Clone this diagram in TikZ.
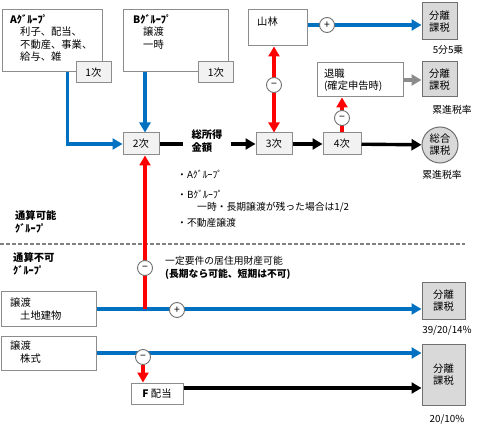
\documentclass[tikz,border=0pt]{standalone}
\usepackage{fontspec}
\setmainfont{Noto Sans CJK JP}
\usetikzlibrary{arrows.meta}
\definecolor{cblue}{HTML}{0070C0}
\definecolor{cred}{HTML}{FF0000}
\definecolor{bordergray}{HTML}{8C8C8C}
\definecolor{lightfill}{HTML}{F2F2F2}
\definecolor{sepfill}{HTML}{D9D9D9}
\definecolor{arrgray}{HTML}{8C8C8C}
\begin{document}
\begin{tikzpicture}[x=1pt,y=-1pt,
  font=\fontsize{10.3}{12.6}\selectfont,
  box/.style={draw=bordergray, line width=1pt, fill=white, inner sep=0pt},
  stepbox/.style={draw=bordergray, line width=1pt, fill=lightfill, inner sep=0pt},
  sepbox/.style={draw=bordergray!80!black, line width=1pt, fill=sepfill, inner sep=0pt, align=center, font=\fontsize{10.3}{12.6}\selectfont},
  txt/.style={inner sep=0pt, align=left},
  tip/.style={-{Triangle[length=10pt,width=11pt]}},
  bluearr/.style={draw=cblue, line width=3.4pt, tip, color=cblue},
  redarr/.style={draw=cred, line width=3.4pt, tip, color=cred},
  redarrtwo/.style={draw=cred, line width=3.4pt, {Triangle[length=10pt,width=11pt]}-{Triangle[length=10pt,width=11pt]}, color=cred},
  blkline/.style={draw=black, line width=3.4pt},
  blkarr/.style={draw=black, line width=3.4pt, tip},
  grayarr/.style={draw=arrgray, line width=3.4pt, tip, color=arrgray},
  sign/.style={circle, draw=bordergray!80!black, line width=0.9pt, fill=white, minimum size=15pt, inner sep=0pt, font=\fontsize{10.5}{10.5}\selectfont},
  lbl/.style={inner sep=0pt, font=\fontsize{9.8}{11}\selectfont},
  dashline/.style={draw=gray, line width=1.1pt, dash pattern=on 3.5pt off 2.5pt}
]
\useasboundingbox (0,0) rectangle (482,433);

% A group
\node[box, minimum width=100, minimum height=62] (Abox) at (52,41) {};
\node[txt, anchor=north west] (Atext) at (10,14) {\textbf{Aｸﾞﾙｰﾌﾟ}\\\hspace*{10pt}利子、配当、\\\hspace*{10pt}不動産、事業、\\\hspace*{10pt}給与、雑};
\node[stepbox, minimum width=35, minimum height=21] (A1) at (93.5,72.5) {1次};

% B group
\node[box, minimum width=105, minimum height=62] (Bbox) at (175.5,41) {};
\node[txt, anchor=north west] (Btext) at (133,14) {\textbf{Bｸﾞﾙｰﾌﾟ}\\\hspace*{10pt}譲渡\\\hspace*{10pt}一時};
\node[stepbox, minimum width=35, minimum height=21] (B1) at (216,72.5) {1次};

% main row
\node[stepbox, minimum width=36, minimum height=22] (n2) at (141,144) {2次};
\node[txt, align=left, inner xsep=8pt, font=\bfseries\fontsize{10.3}{12.6}\selectfont] (sot) at (207,141) {総所得\\金額};
\node[stepbox, minimum width=36, minimum height=22] (n3) at (274,144) {3次};
\node[stepbox, minimum width=38, minimum height=22] (n4) at (342,144) {4次};
\node[circle, draw=bordergray!80!black, line width=1pt, fill=sepfill, minimum size=36pt, inner sep=0pt, align=center, font=\fontsize{10.3}{12}\selectfont] (sogo) at (440,145) {総合\\課税};
\node[lbl] (sogolbl) at (442,175) {累進税率};

% 山林
\node[box, minimum width=59, minimum height=36] (yama) at (277.5,28) {};
\node[txt, anchor=west] (yamat) at (257,22) {山林};
\node[sepbox, minimum width=35, minimum height=37] (s1) at (439.5,21.5) {分離\\課税};
\node[lbl] (s1lbl) at (448,50) {5分5乗};

% 退職
\node[box, text width=72pt, align=left, inner xsep=7pt, minimum height=34] (tai) at (360,80) {退職\\(確定申告時)};
\node[sepbox, minimum width=35, minimum height=35] (s2) at (439.5,79.5) {分離\\課税};
\node[lbl] (s2lbl) at (452,110) {累進税率};

% bullets
\node[txt, anchor=west, font=\fontsize{9.8}{11}\selectfont] (b1) at (177,175) {・Aｸﾞﾙｰﾌﾟ};
\node[txt, anchor=west, font=\fontsize{9.8}{11}\selectfont] (b2) at (177,195) {・Bｸﾞﾙｰﾌﾟ};
\node[txt, anchor=west, font=\fontsize{9.8}{11}\selectfont] (b3) at (197,207) {一時・長期譲渡が残った場合は1/2};
\node[txt, anchor=west, font=\fontsize{9.8}{11}\selectfont] (b4) at (177,223) {・不動産譲渡};

% group labels
\node[txt, anchor=north west, font=\bfseries\fontsize{10.3}{13}\selectfont] (g1) at (15,210) {通算可能\\ｸﾞﾙｰﾌﾟ};
\node[txt, anchor=north west, font=\bfseries\fontsize{10.3}{13}\selectfont] (g2) at (13,252) {通算不可\\ｸﾞﾙｰﾌﾟ};
\coordinate (dl) at (0,244);
\coordinate (dr) at (465,244);
\draw[dashline] (dl) -- (dr);

\node[txt, anchor=west, font=\fontsize{9.8}{11}\selectfont] (cond1) at (165,261) {一定要件の居住用財産可能};
\node[txt, anchor=west, font=\bfseries\fontsize{9.8}{11}\selectfont] (cond2) at (165,274) {(長期なら可能、短期は不可)};

% 譲渡 boxes
\node[box, minimum width=95, minimum height=35] (j1) at (48.5,309) {};
\node[txt, anchor=north west, font=\fontsize{10.3}{13}\selectfont] (j1t) at (10,298) {譲渡\\\hspace*{10pt}土地建物};
\node[sepbox, minimum width=43, minimum height=37] (s3) at (443.5,300.5) {分離\\課税};
\node[lbl] (s3lbl) at (447,330) {39/20/14\%};

\node[box, minimum width=95, minimum height=34] (j2) at (48.5,353) {};
\node[txt, anchor=north west, font=\fontsize{10.3}{13}\selectfont] (j2t) at (10,341) {譲渡\\\hspace*{10pt}株式};
\node[sepbox, minimum width=43, minimum height=61] (s4) at (443.5,374.5) {分離\\課税};
\node[lbl] (s4lbl) at (447,419) {20/10\%};

\node[box, minimum width=52, minimum height=21] (F) at (157,393.5) {\textbf{F} 配当};

% connectors
\coordinate (bx) at (145,0);
\coordinate (y25) at (0,25);
\draw[bluearr] ([xshift=66pt]Abox.south west) |- (n2);
\draw[bluearr] (Bbox.south -| bx) -- (n2.north -| bx);
\draw[blkline] (n2) -- (n2 -| sot.west);
\draw[blkarr] (sot.east |- n3) -- (n3);
\draw[blkarr] (n3) -- (n4);
\draw[blkarr] (n4) -- (sogo);
\draw[bluearr] (yama.east |- y25) -- (s1.west |- y25);
\draw[redarrtwo] (n3.north |- yama.south) -- (n3.north);
\draw[grayarr] (tai) -- (tai -| s2.west);
\draw[redarr] (n4.north) -- (n4.north |- tai.south);
\draw[bluearr] (j1) -- (j1 -| s3.west);
\draw[redarr] (bx |- j1) -- (n2.south -| bx);
\draw[bluearr] (j2) -- (j2 -| s4.west);
\draw[blkarr] ([yshift=5.5pt]F.east) -- ([yshift=5.5pt]F.east -| s4.west);

% signs
\node[sign] (p1) at (327,25) {+};
\node[sign] (m1) at (274,85) {−};
\node[sign] (m2) at (342,118) {−};
\node[sign] (m3) at (145,268) {−};
\node[sign] (p2) at (177,310) {+};
\node[sign] (m4) at (143,357) {−};
\draw[redarr] (m4) -- (m4 |- F.north);
\end{tikzpicture}
\end{document}
